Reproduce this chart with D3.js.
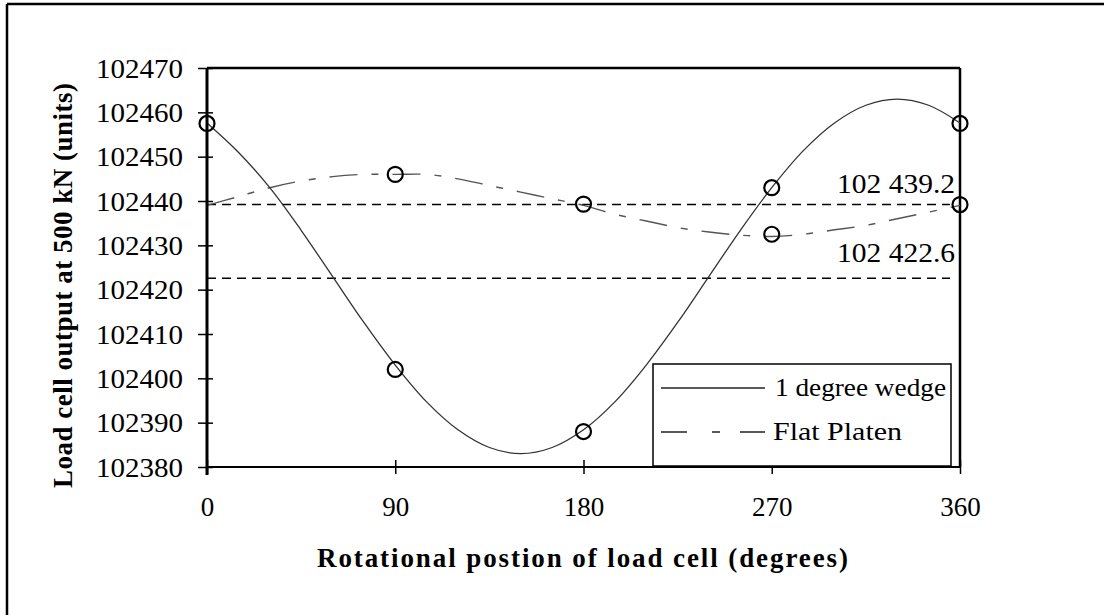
<!DOCTYPE html>
<html>
<head>
<meta charset="utf-8">
<script src="https://cdn.jsdelivr.net/npm/d3@7"></script>
<style>
  html, body { margin: 0; padding: 0; background: #fff; }
  svg { display: block; }
  text { font-family: "Liberation Serif", "Times New Roman", serif; fill: #000; }
</style>
</head>
<body>
<svg id="chart" width="1104" height="615"></svg>
<script>
// ---- data ----
const curveAngles = [0,15,30,45,60,75,90,105,120,135,150,165,180,195,210,225,240,255,270,285,300,315,330,345,360];
const wedgeCurve  = [102457.6,102451,102443,102433.4,102423,102412.6,102403,102394.7,102388.4,102384.4,102383,102384.4,102388.4,102394.7,102403,102412.6,102423,102433.4,102443,102451.3,102457.6,102461.6,102463,102461.6,102457.6];
const flatCurve   = [102439,102441,102443,102444.5,102445.5,102446,102446,102446,102445,102443.5,102442,102440.5,102439,102437,102435.5,102434,102433,102432.3,102432,102432.5,102433.5,102434.5,102436,102437.5,102439];
const wedgeMarkAngles = [0,90,180,270,360];
const wedgeMarks      = [102457.5,102402,102388,102443,102457.5];
const flatMarkAngles  = [90,180,270,360];
const flatMarks       = [102446,102439.3,102432.5,102439.2];
const refValues = [102439.2, 102422.6];
const refLabels = ["102 439.2", "102 422.6"];
const xTicks = [0,90,180,270,360];
const yTicks = [102380,102390,102400,102410,102420,102430,102440,102450,102460,102470];
const seriesNames = ["1 degree wedge", "Flat Platen"];
const xTitle = "Rotational postion of load cell (degrees)";
const yTitle = "Load cell output at 500 kN (units)";

// ---- layout ----
const svg = d3.select("#chart");
const L = 207, R = 960, T = 68, B = 467;
const x = d3.scaleLinear().domain([0,360]).range([L,R]);
const y = d3.scaleLinear().domain([102380,102470]).range([B,T]);

// outer frame (left + top only visible)
svg.append("line").attr("x1",7).attr("x2",1104).attr("y1",4).attr("y2",4).attr("stroke","#000").attr("stroke-width",2.5);
svg.append("line").attr("x1",7).attr("x2",7).attr("y1",4).attr("y2",615).attr("stroke","#000").attr("stroke-width",2.5);

// plot frame top + right
svg.append("line").attr("x1",L).attr("x2",R).attr("y1",T).attr("y2",T).attr("stroke","#000").attr("stroke-width",2.5);
svg.append("line").attr("x1",R).attr("x2",R).attr("y1",T).attr("y2",B).attr("stroke","#000").attr("stroke-width",2.5);

// reference lines
refValues.forEach((v,i) => {
  svg.append("line").attr("x1",L).attr("x2",950).attr("y1",y(v)).attr("y2",y(v))
    .attr("stroke","#000").attr("stroke-width",1.5).attr("stroke-dasharray","9,6");
});
svg.append("text").attr("x",955).attr("y",193).attr("text-anchor","end").attr("font-size",27)
  .attr("textLength",118).attr("lengthAdjust","spacingAndGlyphs").text(refLabels[0]);
svg.append("text").attr("x",955).attr("y",262).attr("text-anchor","end").attr("font-size",27)
  .attr("textLength",118).attr("lengthAdjust","spacingAndGlyphs").text(refLabels[1]);

// curves
const line = d3.line().x(d => x(d[0])).y(d => y(d[1])).curve(d3.curveCatmullRom);
svg.append("path").datum(curveAngles.map((a,i)=>[a,flatCurve[i]]))
  .attr("d", line).attr("fill","none").attr("stroke","#555").attr("stroke-width",1.4)
  .attr("stroke-dasharray","28,14,7,14");
svg.append("path").datum(curveAngles.map((a,i)=>[a,wedgeCurve[i]]))
  .attr("d", line).attr("fill","none").attr("stroke","#333").attr("stroke-width",1.3);

// markers
const marks = wedgeMarkAngles.map((a,i)=>[a,wedgeMarks[i]]).concat(flatMarkAngles.map((a,i)=>[a,flatMarks[i]]));
svg.selectAll("circle.mk").data(marks).enter().append("circle").attr("class","mk")
  .attr("cx", d=>x(d[0])).attr("cy", d=>y(d[1])).attr("r",7.5)
  .attr("fill","none").attr("stroke","#000").attr("stroke-width",2.2);

// y axis
const yAxis = svg.append("g").attr("transform",`translate(${L},0)`)
  .call(d3.axisLeft(y).tickValues(yTicks).tickSize(9).tickPadding(15).tickFormat(d3.format("d")));
yAxis.select(".domain").attr("stroke-width",3).attr("d",`M0,${T}V${B+8}`);
yAxis.selectAll(".tick line").attr("x1",6).attr("stroke-width",1.5);
yAxis.selectAll(".tick text").attr("font-size",27).attr("font-family","Liberation Serif").attr("fill","#000")
  .attr("dy","0.34em").attr("x",-24).attr("textLength",87).attr("lengthAdjust","spacingAndGlyphs");

// x axis
const xAxis = svg.append("g").attr("transform",`translate(0,${B})`)
  .call(d3.axisBottom(x).tickValues(xTicks).tickSize(7).tickPadding(24));
xAxis.select(".domain").attr("stroke-width",2).attr("d",`M${L},0H${R}`);
xAxis.selectAll(".tick line").attr("y1",-7).attr("stroke-width",1.5);
xAxis.selectAll(".tick text").attr("font-size",27).attr("font-family","Liberation Serif").attr("fill","#000").attr("dy","0").attr("y",49);

// legend
svg.append("rect").attr("x",653).attr("y",364).attr("width",298).attr("height",102)
  .attr("fill","#fff").attr("stroke","#000").attr("stroke-width",1.5);
svg.append("line").attr("x1",661).attr("x2",765).attr("y1",388).attr("y2",388).attr("stroke","#222").attr("stroke-width",1.5);
svg.append("line").attr("x1",661).attr("x2",765).attr("y1",432).attr("y2",432).attr("stroke","#222").attr("stroke-width",1.5)
  .attr("stroke-dasharray","26,25,8,20,30");
svg.append("text").attr("x",775).attr("y",396).attr("font-size",25)
  .attr("textLength",171).attr("lengthAdjust","spacingAndGlyphs").text(seriesNames[0]);
svg.append("text").attr("x",773).attr("y",440).attr("font-size",25)
  .attr("textLength",129).attr("lengthAdjust","spacingAndGlyphs").text(seriesNames[1]);

// axis titles
svg.append("text").attr("x",317).attr("y",567).attr("font-size",27).attr("font-weight","bold")
  .attr("textLength",531).attr("lengthAdjust","spacing").text(xTitle);
svg.append("text").attr("transform","translate(72,488) rotate(-90)").attr("font-size",27).attr("font-weight","bold")
  .attr("textLength",405).attr("lengthAdjust","spacing").text(yTitle);
</script>
</body>
</html>
